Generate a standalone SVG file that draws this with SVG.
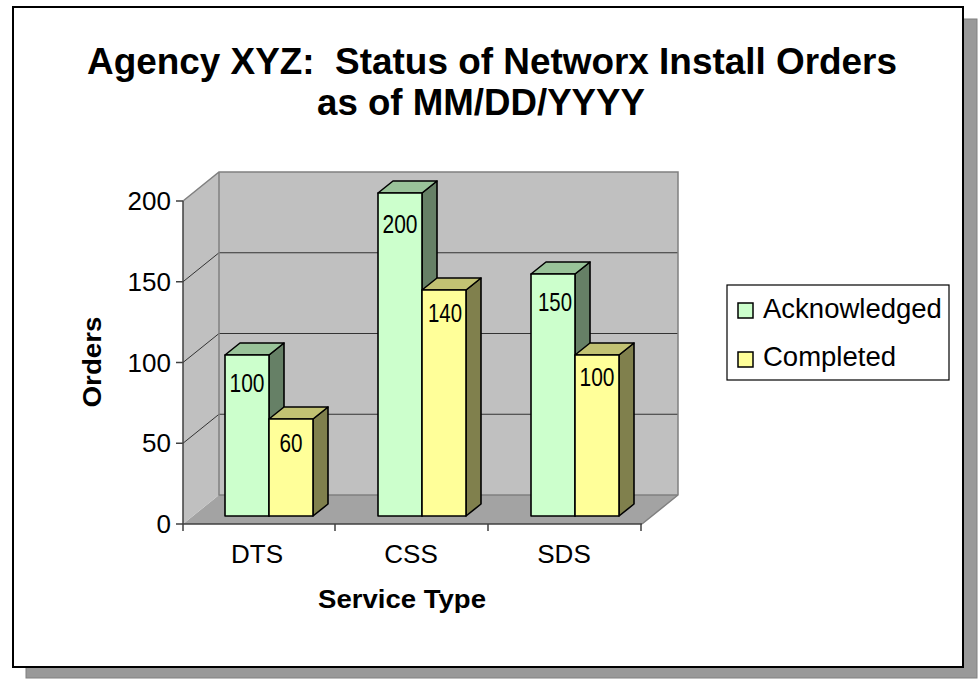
<svg xmlns="http://www.w3.org/2000/svg" width="978" height="679" viewBox="0 0 978 679">
<style>
text{font-family:"Liberation Sans",Arial,sans-serif;fill:#000}
.title{font-size:36px;font-weight:bold}
.ax{font-size:26px;text-anchor:end}
.cat{font-size:26px;text-anchor:middle}
.axt{font-size:26px;font-weight:bold;text-anchor:middle}
.lbl{font-size:25px;text-anchor:middle}
.leg{font-size:27.5px}
.grid{stroke:#333;stroke-width:1;fill:none}
.edge{stroke:#808080;stroke-width:1.5;fill:none}
.axis{stroke:#404040;stroke-width:1.5;fill:none}
.bar{stroke:#000;stroke-width:1.6;stroke-linejoin:round}
.af{fill:#ccffcc}.at{fill:#99c399}.as{fill:#668066}
.cf{fill:#ffff99}.ct{fill:#c2c273}.cs{fill:#80804d}
</style>
<rect x="0" y="0" width="978" height="679" fill="#fff"/>
<g id="frame">
<rect x="26" y="19" width="951" height="659" fill="#999" stroke="#808080" stroke-width="1"/>
<rect x="13" y="7" width="950" height="660" fill="#fff" stroke="#000" stroke-width="2"/>
</g>
<g id="title">
<text class="title" x="87" y="74" textLength="810" lengthAdjust="spacingAndGlyphs" xml:space="preserve">Agency XYZ:  Status of Networx Install Orders</text>
<text class="title" x="317" y="115" textLength="328" lengthAdjust="spacingAndGlyphs">as of MM/DD/YYYY</text>
</g>
<g id="walls">
<polygon points="183,524 219,495 678,495 642,524" fill="#a3a3a3"/>
<polygon points="183,201 219,172 219,495 183,524" fill="#c0c0c0"/>
<rect x="219" y="172" width="459" height="323" fill="#c0c0c0"/>
<path class="grid" d="M219,414.25H678M219,333.5H678M219,252.75H678"/>
<path class="grid" d="M183,443.25L219,414.25M183,362.5L219,333.5M183,281.75L219,252.75"/>
<path class="edge" d="M183,201L219,172H678V495L642,524M219,172V495H678"/>
<path class="axis" d="M183,201V524H642M176,201H183M176,281.75H183M176,362.5H183M176,443.25H183M176,524H183M183,524V531M335,524V531M488,524V531M641,524V531"/>
</g>
<g id="axis-labels">
<text class="ax" x="171" y="210">200</text>
<text class="ax" x="171" y="291">150</text>
<text class="ax" x="171" y="372">100</text>
<text class="ax" x="171" y="452">50</text>
<text class="ax" x="171" y="533">0</text>
<text class="cat" x="257" y="563">DTS</text>
<text class="cat" x="411" y="563">CSS</text>
<text class="cat" x="564" y="563">SDS</text>
<text class="axt" x="402" y="608" textLength="168" lengthAdjust="spacingAndGlyphs">Service Type</text>
<text class="axt" transform="translate(101,362) rotate(-90)" x="0" y="0" textLength="91" lengthAdjust="spacingAndGlyphs">Orders</text>
</g>
<g id="bar-dts-ack">
<polygon class="bar as" points="269,355 284,343 284,504 269,516"/>
<polygon class="bar at" points="225,355 240,343 284,343 269,355"/>
<rect class="bar af" x="225" y="355" width="44" height="161"/>
<text class="lbl" x="247" y="392" textLength="35" lengthAdjust="spacingAndGlyphs">100</text>
</g>
<g id="bar-dts-comp">
<polygon class="bar cs" points="313,419 328,407 328,504 313,516"/>
<polygon class="bar ct" points="269,419 284,407 328,407 313,419"/>
<rect class="bar cf" x="269" y="419" width="44" height="97"/>
<text class="lbl" x="291" y="452" textLength="23" lengthAdjust="spacingAndGlyphs">60</text>
</g>
<g id="bar-css-ack">
<polygon class="bar as" points="422,193 437,181 437,504 422,516"/>
<polygon class="bar at" points="378,193 393,181 437,181 422,193"/>
<rect class="bar af" x="378" y="193" width="44" height="323"/>
<text class="lbl" x="400" y="233" textLength="35" lengthAdjust="spacingAndGlyphs">200</text>
</g>
<g id="bar-css-comp">
<polygon class="bar cs" points="466,290 481,278 481,504 466,516"/>
<polygon class="bar ct" points="422,290 437,278 481,278 466,290"/>
<rect class="bar cf" x="422" y="290" width="44" height="226"/>
<text class="lbl" x="445" y="322" textLength="34" lengthAdjust="spacingAndGlyphs">140</text>
</g>
<g id="bar-sds-ack">
<polygon class="bar as" points="575,274 590,262 590,504 575,516"/>
<polygon class="bar at" points="531,274 546,262 590,262 575,274"/>
<rect class="bar af" x="531" y="274" width="44" height="242"/>
<text class="lbl" x="555" y="311" textLength="34" lengthAdjust="spacingAndGlyphs">150</text>
</g>
<g id="bar-sds-comp">
<polygon class="bar cs" points="619,355 634,343 634,504 619,516"/>
<polygon class="bar ct" points="575,355 590,343 634,343 619,355"/>
<rect class="bar cf" x="575" y="355" width="44" height="161"/>
<text class="lbl" x="597" y="386" textLength="35" lengthAdjust="spacingAndGlyphs">100</text>
</g>
<g id="legend">
<rect x="727" y="285" width="222" height="95" fill="#fff" stroke="#000" stroke-width="1.2"/>
<rect x="738" y="303" width="15" height="15" fill="#ccffcc" stroke="#000" stroke-width="1.5"/>
<text class="leg" x="763" y="318">Acknowledged</text>
<rect x="738" y="352" width="15" height="15" fill="#ffff99" stroke="#000" stroke-width="1.5"/>
<text class="leg" x="763" y="366">Completed</text>
</g>
<g id="connectors"/>
</svg>
